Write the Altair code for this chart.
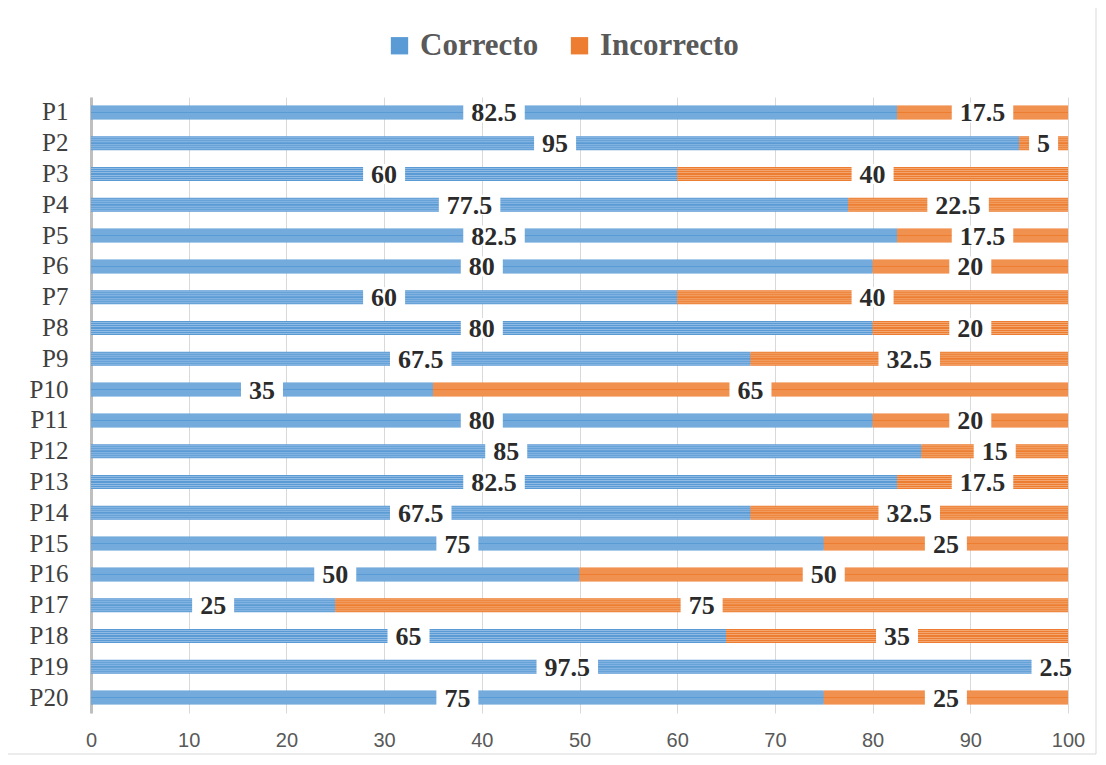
import altair as alt
import pandas as pd

preguntas = [f"P{i}" for i in range(1, 21)]
correcto = [82.5, 95, 60, 77.5, 82.5, 80, 60, 80, 67.5, 35, 80, 85, 82.5, 67.5, 75, 50, 25, 65, 97.5, 75]
incorrecto = [17.5, 5, 40, 22.5, 17.5, 20, 40, 20, 32.5, 65, 20, 15, 17.5, 32.5, 25, 50, 75, 35, 2.5, 25]
series = ["Correcto", "Incorrecto"]

rows = []
for p, c, i in zip(preguntas, correcto, incorrecto):
    rows.append({"pregunta": p, "serie": "Correcto", "orden": 0, "valor": c})
    rows.append({"pregunta": p, "serie": "Incorrecto", "orden": 1, "valor": i})
df = pd.DataFrame(rows)

BLUE, BLUE_L = "#5B9BD5", "#8EBAE4"
ORANGE, ORANGE_L = "#ED7D31", "#F3A66F"
FS = 26
PX_PER_UNIT = 977 / 100

W, H = 977, 616

base = alt.Chart(df).transform_stack(
    stack="valor", groupby=["pregunta"], as_=["x0", "x1"],
    sort=[alt.SortField("orden", order="ascending")]
).transform_calculate(
    mid="(datum.x0 + datum.x1) / 2",
    lbl="'' + datum.valor",
).transform_calculate(
    ndot="indexof(datum.lbl, '.') >= 0 ? 1 : 0",
).transform_calculate(
    half=f"(({FS} * (0.5 * (length(datum.lbl) - datum.ndot) + 0.25 * datum.ndot)) + 16) / 2 / {PX_PER_UNIT}",
).transform_calculate(
    b0="datum.mid - datum.half",
    b1="datum.mid + datum.half",
)

yenc = alt.Y("pregunta:N", sort=preguntas, title=None,
             scale=alt.Scale(paddingInner=0, paddingOuter=0))
xscale = alt.Scale(domain=[0, 100], nice=False)

layers = []
layers.append(base.mark_bar(size=14).encode(
    y=yenc,
    x=alt.X("x0:Q", scale=xscale, title=None,
            axis=alt.Axis(values=list(range(0, 101, 10)))),
    x2="x1:Q",
    color=alt.Color("serie:N", scale=alt.Scale(domain=series, range=[BLUE, ORANGE]),
                    legend=alt.Legend(title=None, orient="none", direction="horizontal",
                                      legendX=293, legendY=-67, symbolType="square",
                                      symbolSize=300, symbolStrokeWidth=0,
                                      labelFont="Liberation Serif", labelFontSize=31,
                                      labelFontWeight="bold", labelColor="#595959",
                                      columnPadding=25, labelOffset=5)),
))
for k, sz in enumerate([12, 10, 8, 6, 4, 2]):
    light = (k % 2 == 0)
    cb = BLUE_L if light else BLUE
    co = ORANGE_L if light else ORANGE
    layers.append(base.mark_bar(size=sz).encode(
        y=yenc, x="x0:Q", x2="x1:Q",
        color=alt.condition("datum.serie == 'Correcto'", alt.value(cb), alt.value(co)),
    ))
layers.append(base.mark_bar(size=20, color="white").encode(
    y=yenc, x="b0:Q", x2="b1:Q",
))
layers.append(base.mark_text(font="Liberation Serif", fontSize=FS, fontWeight="bold",
                             color="#2B2B2B", baseline="middle", dy=1).encode(
    y=yenc, x="mid:Q", text="lbl:N",
))
border = alt.Chart(pd.DataFrame({"a": [0]})).mark_rect(
    fill=None, stroke="#D9D9D9", strokeWidth=1
).encode(x=alt.value(-84), x2=alt.value(1005), y=alt.value(-94), y2=alt.value(657))

chart = alt.layer(*layers, border).properties(
    width=W, height=H,
    autosize=alt.AutoSizeParams(type="none"),
    padding={"left": 83, "top": 89, "right": 29, "bottom": 42},
).configure_view(stroke=None).configure_axisX(
    grid=True, gridColor="#D9D9D9", gridWidth=1, domain=False, ticks=False,
    labelFont="Liberation Sans", labelFontSize=20, labelColor="#595959", labelPadding=17,
    labelFlush=False,
).configure_axisY(
    domain=True, domainColor="#BFBFBF", domainWidth=3, ticks=False, grid=False,
    labelFont="Liberation Serif", labelFontSize=25, labelColor="#404040", labelPadding=23,
)

chart.save("out.html", embed_options={"renderer": "svg", "actions": False})
